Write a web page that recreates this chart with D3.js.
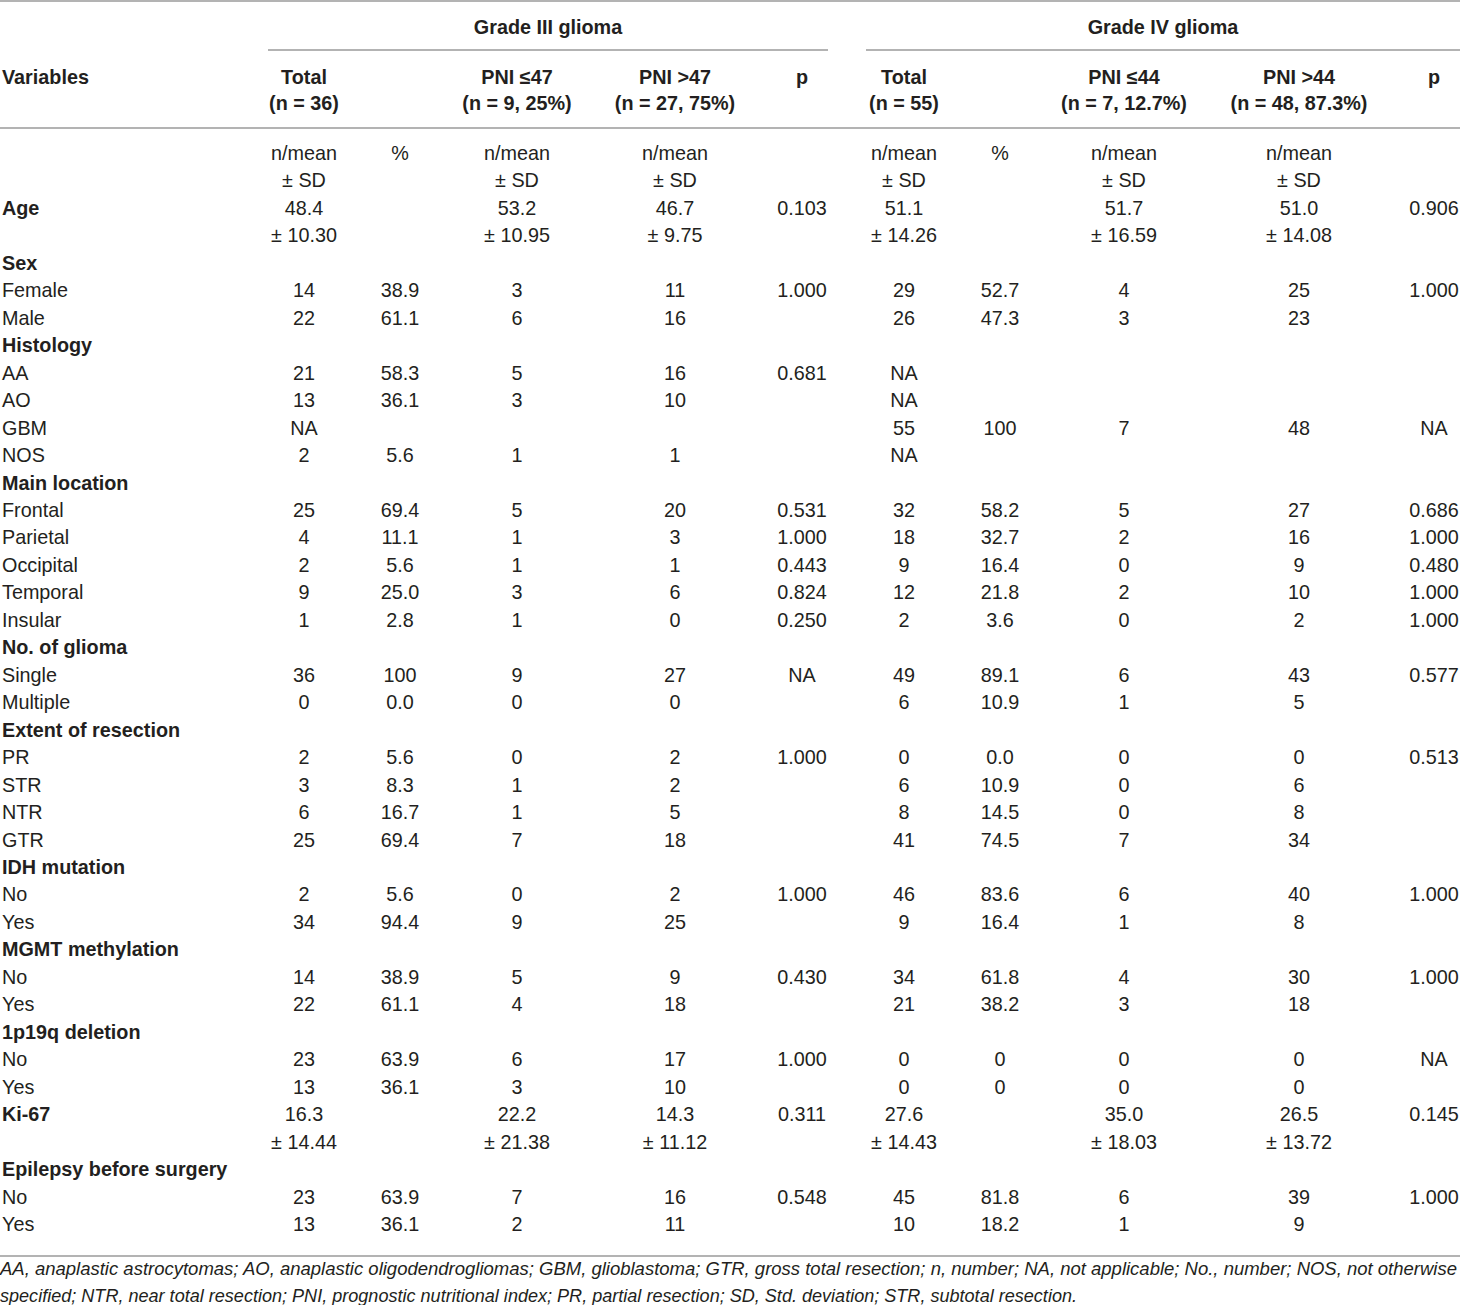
<!DOCTYPE html>
<html>
<head>
<meta charset="utf-8">
<script src="https://cdn.jsdelivr.net/npm/d3@7"></script>
<style>
  html, body { margin: 0; padding: 0; background: #fff; }
  svg { display: block; }
  text { font-family: "Liberation Sans", Arial, sans-serif; fill: #231f20; }
</style>
</head>
<body>
<svg id="chart" width="1460" height="1305"></svg>
<script>
// ---------- DATA ----------
const groupTitles = ["Grade III glioma", "Grade IV glioma"];
const headerLine1 = ["Total", "", "PNI \u226447", "PNI >47", "p", "Total", "", "PNI \u226444", "PNI >44", "p"];
const headerLine2 = ["(n = 36)", "", "(n = 9, 25%)", "(n = 27, 75%)", "", "(n = 55)", "", "(n = 7, 12.7%)", "(n = 48, 87.3%)", ""];

const variables = ["", "", "Age", "", "Sex", "Female", "Male", "Histology", "AA", "AO", "GBM", "NOS",
  "Main location", "Frontal", "Parietal", "Occipital", "Temporal", "Insular", "No. of glioma", "Single", "Multiple",
  "Extent of resection", "PR", "STR", "NTR", "GTR", "IDH mutation", "No", "Yes", "MGMT methylation", "No", "Yes",
  "1p19q deletion", "No", "Yes", "Ki-67", "", "Epilepsy before surgery", "No", "Yes"];
const boldLabels = ["Age", "Sex", "Histology", "Main location", "No. of glioma", "Extent of resection",
  "IDH mutation", "MGMT methylation", "1p19q deletion", "Ki-67", "Epilepsy before surgery"];

const g3Total = ["n/mean", "\u00b1 SD", "48.4", "\u00b1 10.30", "", "14", "22", "", "21", "13", "NA", "2",
  "", "25", "4", "2", "9", "1", "", "36", "0", "", "2", "3", "6", "25", "", "2", "34", "", "14", "22",
  "", "23", "13", "16.3", "\u00b1 14.44", "", "23", "13"];
const g3Pct = ["%", "", "", "", "", "38.9", "61.1", "", "58.3", "36.1", "", "5.6",
  "", "69.4", "11.1", "5.6", "25.0", "2.8", "", "100", "0.0", "", "5.6", "8.3", "16.7", "69.4", "", "5.6", "94.4", "", "38.9", "61.1",
  "", "63.9", "36.1", "", "", "", "63.9", "36.1"];
const g3Low = ["n/mean", "\u00b1 SD", "53.2", "\u00b1 10.95", "", "3", "6", "", "5", "3", "", "1",
  "", "5", "1", "1", "3", "1", "", "9", "0", "", "0", "1", "1", "7", "", "0", "9", "", "5", "4",
  "", "6", "3", "22.2", "\u00b1 21.38", "", "7", "2"];
const g3High = ["n/mean", "\u00b1 SD", "46.7", "\u00b1 9.75", "", "11", "16", "", "16", "10", "", "1",
  "", "20", "3", "1", "6", "0", "", "27", "0", "", "2", "2", "5", "18", "", "2", "25", "", "9", "18",
  "", "17", "10", "14.3", "\u00b1 11.12", "", "16", "11"];
const g3P = ["", "", "0.103", "", "", "1.000", "", "", "0.681", "", "", "",
  "", "0.531", "1.000", "0.443", "0.824", "0.250", "", "NA", "", "", "1.000", "", "", "", "", "1.000", "", "", "0.430", "",
  "", "1.000", "", "0.311", "", "", "0.548", ""];
const g4Total = ["n/mean", "\u00b1 SD", "51.1", "\u00b1 14.26", "", "29", "26", "", "NA", "NA", "55", "NA",
  "", "32", "18", "9", "12", "2", "", "49", "6", "", "0", "6", "8", "41", "", "46", "9", "", "34", "21",
  "", "0", "0", "27.6", "\u00b1 14.43", "", "45", "10"];
const g4Pct = ["%", "", "", "", "", "52.7", "47.3", "", "", "", "100", "",
  "", "58.2", "32.7", "16.4", "21.8", "3.6", "", "89.1", "10.9", "", "0.0", "10.9", "14.5", "74.5", "", "83.6", "16.4", "", "61.8", "38.2",
  "", "0", "0", "", "", "", "81.8", "18.2"];
const g4Low = ["n/mean", "\u00b1 SD", "51.7", "\u00b1 16.59", "", "4", "3", "", "", "", "7", "",
  "", "5", "2", "0", "2", "0", "", "6", "1", "", "0", "0", "0", "7", "", "6", "1", "", "4", "3",
  "", "0", "0", "35.0", "\u00b1 18.03", "", "6", "1"];
const g4High = ["n/mean", "\u00b1 SD", "51.0", "\u00b1 14.08", "", "25", "23", "", "", "", "48", "",
  "", "27", "16", "9", "10", "2", "", "43", "5", "", "0", "6", "8", "34", "", "40", "8", "", "30", "18",
  "", "0", "0", "26.5", "\u00b1 13.72", "", "39", "9"];
const g4P = ["", "", "0.906", "", "", "1.000", "", "", "", "", "NA", "",
  "", "0.686", "1.000", "0.480", "1.000", "1.000", "", "0.577", "", "", "0.513", "", "", "", "", "1.000", "", "", "1.000", "",
  "", "NA", "", "0.145", "", "", "1.000", ""];

const footnotes = [
  "AA, anaplastic astrocytomas; AO, anaplastic oligodendrogliomas; GBM, glioblastoma; GTR, gross total resection; n, number; NA, not applicable; No., number; NOS, not otherwise",
  "specified; NTR, near total resection; PNI, prognostic nutritional index; PR, partial resection; SD, Std. deviation; STR, subtotal resection."
];

// ---------- LAYOUT ----------
const W = 1460;
const svg = d3.select("#chart");
const columns = [g3Total, g3Pct, g3Low, g3High, g3P, g4Total, g4Pct, g4Low, g4High, g4P];
const colKeys = d3.range(columns.length);
const colX = d3.scaleOrdinal().domain(colKeys).range([304, 400, 517, 675, 802, 904, 1000, 1124, 1299, 1434]);
const rowY = d3.scalePoint().domain(d3.range(variables.length)).range([153, 1224]);
const FS = 19.8;
const baseOff = 7;
const lineColor = "#9a9a9a";

// rules
const rules = [
  {x1: 0, x2: W, y: 1},
  {x1: 268, x2: 828, y: 50},
  {x1: 866, x2: W, y: 50},
  {x1: 0, x2: W, y: 128},
  {x1: 0, x2: W, y: 1256}
];
svg.selectAll("line.rule").data(rules).join("line")
  .attr("class", "rule")
  .attr("x1", d => d.x1).attr("x2", d => d.x2)
  .attr("y1", d => d.y).attr("y2", d => d.y)
  .attr("stroke", lineColor).attr("stroke-width", 1.6);

// group titles
const groupX = d3.scaleOrdinal().domain([0, 1]).range([548, 1163]);
svg.selectAll("text.group").data(groupTitles).join("text")
  .attr("class", "group")
  .attr("x", (d, i) => groupX(i)).attr("y", 34)
  .attr("text-anchor", "middle").attr("font-weight", "bold").attr("font-size", FS)
  .text(d => d);

// header
svg.append("text").attr("x", 2).attr("y", 84).attr("font-weight", "bold").attr("font-size", FS).text("Variables");
svg.selectAll("text.h1").data(headerLine1).join("text")
  .attr("class", "h1")
  .attr("x", (d, i) => colX(i)).attr("y", 84)
  .attr("text-anchor", "middle").attr("font-weight", "bold").attr("font-size", FS)
  .text(d => d);
svg.selectAll("text.h2").data(headerLine2).join("text")
  .attr("class", "h2")
  .attr("x", (d, i) => colX(i)).attr("y", 110)
  .attr("text-anchor", "middle").attr("font-weight", "bold").attr("font-size", FS)
  .text(d => d);

// labels
svg.selectAll("text.lab").data(variables).join("text")
  .attr("class", "lab")
  .attr("x", 2).attr("y", (d, i) => rowY(i) + baseOff)
  .attr("font-size", FS)
  .attr("font-weight", d => boldLabels.includes(d) ? "bold" : "normal")
  .text(d => d);

// cells
const cells = [];
columns.forEach((col, c) => col.forEach((v, r) => { if (v !== "") cells.push({c, r, v}); }));
svg.selectAll("text.cell").data(cells).join("text")
  .attr("class", "cell")
  .attr("x", d => colX(d.c)).attr("y", d => rowY(d.r) + baseOff)
  .attr("text-anchor", "middle").attr("font-size", FS)
  .text(d => d.v);

// footnotes
const footWidths = [1457, 1077];
svg.selectAll("text.fn").data(footnotes).join("text")
  .attr("class", "fn")
  .attr("x", 0).attr("y", (d, i) => 1275 + i * 27)
  .attr("font-style", "italic").attr("font-size", 18.5)
  .attr("textLength", (d, i) => footWidths[i])
  .attr("lengthAdjust", "spacingAndGlyphs")
  .text(d => d);
</script>
</body>
</html>
